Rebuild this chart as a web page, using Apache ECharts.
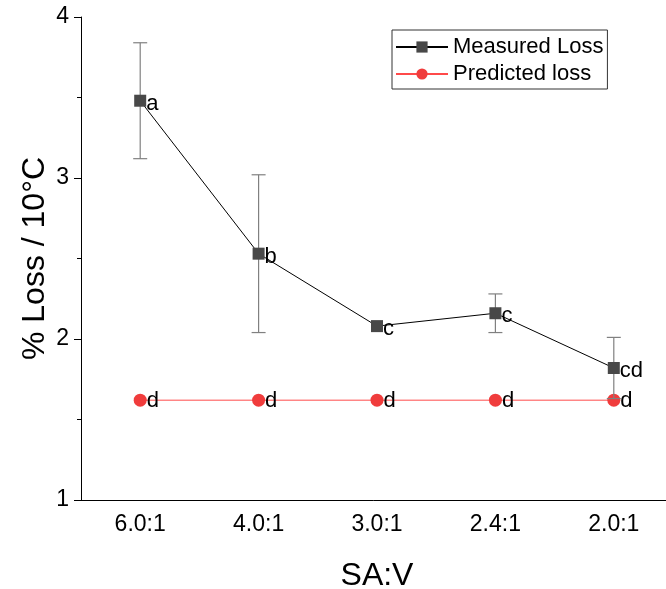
<!DOCTYPE html>
<html>
<head>
<meta charset="utf-8">
<script src="https://cdn.jsdelivr.net/npm/echarts@6/dist/echarts.min.js"></script>
<style>
  html, body { margin: 0; padding: 0; background: #fff; }
  #chart { width: 666px; height: 589px; }
</style>
</head>
<body>
<div id="chart"></div>
<script>
// SA:V ratio categories
const categories = ['6.0:1', '4.0:1', '3.0:1', '2.4:1', '2.0:1'];
// Measured % loss per 10°C with error bar limits
const measured = [3.48, 2.53, 2.08, 2.16, 1.82];
const measuredLow = [3.12, 2.04, 2.08, 2.04, 1.63];
const measuredHigh = [3.84, 3.02, 2.08, 2.28, 2.01];
const measuredLetters = ['a', 'b', 'c', 'c', 'cd'];
// Model prediction
const predicted = [1.62, 1.62, 1.62, 1.62, 1.62];
const predictedLetters = ['d', 'd', 'd', 'd', 'd'];
const yTicks = [1, 2, 3, 4];

const FONT = 'Liberation Sans, Arial, sans-serif';
const chart = echarts.init(document.getElementById('chart'));

const errData = categories.map((c, i) => [i, measuredLow[i], measuredHigh[i]]);

chart.setOption({
  animation: false,
  textStyle: { fontFamily: FONT },
  grid: { left: 81, top: 17, bottom: 89, right: -7, containLabel: false, outerBoundsMode: 'none' },
  legend: {
    left: 392, top: 30,
    orient: 'vertical',
    padding: [6, 4, 4, 3],
    itemGap: 5,
    itemWidth: 52,
    itemHeight: 14,
    borderColor: '#333',
    borderWidth: 1,
    textStyle: { fontSize: 22, color: '#000', fontFamily: FONT, lineHeight: 22 },
    data: ['Measured Loss', 'Predicted loss']
  },
  xAxis: [{
    type: 'category',
    data: categories,
    boundaryGap: true,
    axisLine: { lineStyle: { color: '#000', width: 1 } },
    axisTick: { alignWithLabel: true, length: 7, lineStyle: { color: '#000' } },
    axisLabel: { color: '#000', fontSize: 23, margin: 13, fontFamily: FONT },
    name: 'SA:V',
    nameLocation: 'middle',
    nameGap: 60,
    nameMoveOverlap: false,
    nameTextStyle: { fontSize: 32, color: '#000', fontFamily: FONT }
  }, {
    type: 'category',
    data: categories,
    position: 'bottom',
    boundaryGap: true,
    axisLine: { show: false },
    axisTick: { length: 4, lineStyle: { color: '#000' } },
    axisLabel: { show: false }
  }],
  yAxis: {
    type: 'value',
    min: yTicks[0], max: yTicks[yTicks.length - 1], interval: 1,
    axisLine: { show: true, lineStyle: { color: '#000', width: 1 } },
    axisTick: { show: true, length: 7, lineStyle: { color: '#000' } },
    minorTick: { show: true, splitNumber: 2, length: 4, lineStyle: { color: '#000' } },
    splitLine: { show: false },
    axisLabel: { color: '#000', fontSize: 23, margin: 12, fontFamily: FONT },
    name: '% Loss / 10°C',
    nameLocation: 'middle',
    nameGap: 30,
    nameMoveOverlap: false,
    nameTextStyle: { fontSize: 32, color: '#000', fontFamily: FONT }
  },
  series: [
    {
      name: 'Predicted loss',
      type: 'line',
      data: predicted.map((v, i) => ({ value: v, label: { formatter: predictedLetters[i] } })),
      symbol: 'circle',
      symbolSize: 13,
      itemStyle: { color: '#f03c3c' },
      lineStyle: { color: '#ff4a4a', width: 1 },
      label: { show: true, position: 'right', distance: 0, color: '#000', fontSize: 22, fontFamily: FONT, offset: [0, 1] },
      z: 2
    },
    {
      name: 'errorbars',
      type: 'custom',
      data: errData,
      renderItem: function (params, api) {
        const x = api.value(0);
        const lo = api.coord([x, api.value(1)]);
        const hi = api.coord([x, api.value(2)]);
        const cap = 7;
        const style = { stroke: '#808080', lineWidth: 1.2, fill: null };
        if (Math.abs(lo[1] - hi[1]) < 1) return { type: 'group', children: [] };
        return {
          type: 'group',
          children: [
            { type: 'line', shape: { x1: lo[0], y1: lo[1], x2: hi[0], y2: hi[1] }, style: style },
            { type: 'line', shape: { x1: lo[0] - cap, y1: lo[1], x2: lo[0] + cap, y2: lo[1] }, style: style },
            { type: 'line', shape: { x1: hi[0] - cap, y1: hi[1], x2: hi[0] + cap, y2: hi[1] }, style: style }
          ]
        };
      },
      z: 3
    },
    {
      name: 'Measured Loss',
      type: 'line',
      data: measured.map((v, i) => ({ value: v, label: { formatter: measuredLetters[i] } })),
      symbol: 'rect',
      symbolSize: 12,
      itemStyle: { color: '#484848' },
      lineStyle: { color: '#000', width: 1 },
      label: { show: true, position: 'right', distance: 0, color: '#000', fontSize: 22, fontFamily: FONT, offset: [0, 3] },
      z: 4
    }
  ]
});
</script>
</body>
</html>
